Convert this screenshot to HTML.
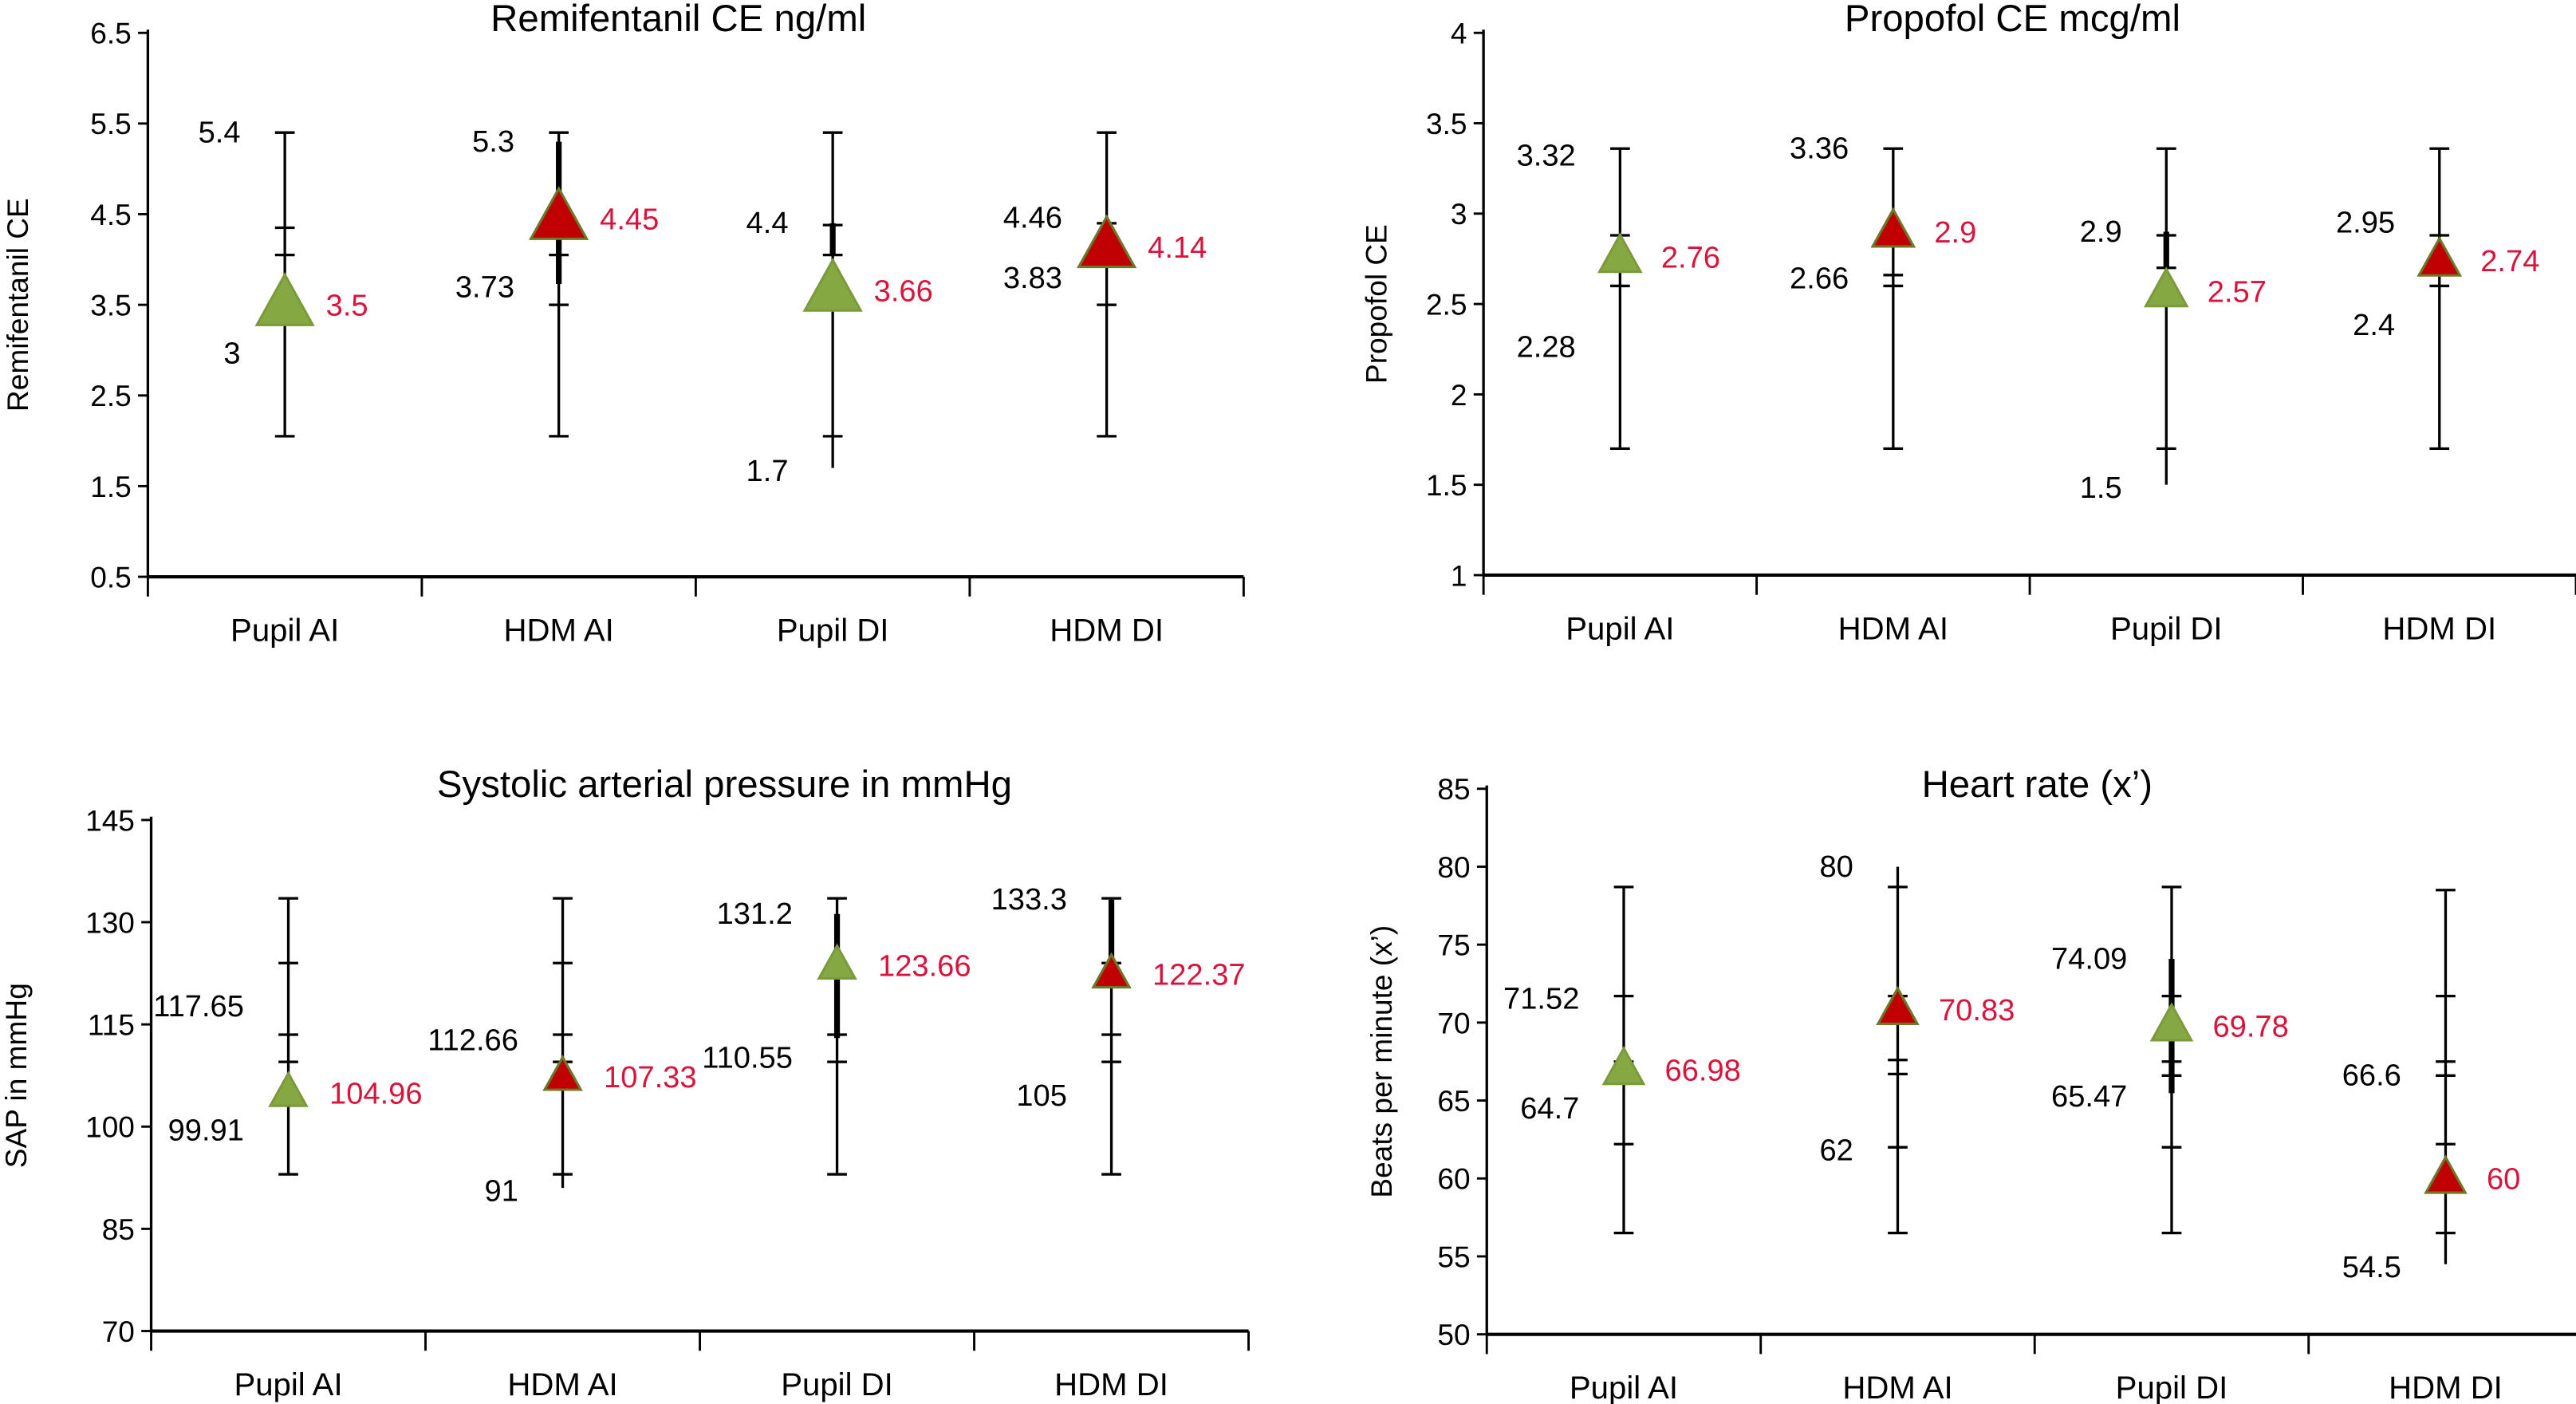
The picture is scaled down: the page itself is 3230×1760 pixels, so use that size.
<!DOCTYPE html>
<html><head><meta charset="utf-8"><style>
html,body{margin:0;padding:0;background:#fff;}
svg{display:block;font-family:"Liberation Sans",Arial,sans-serif;}
</style></head><body>
<svg id="c" width="3230" height="1760" viewBox="0 0 1568 854.4"></svg>
<script>
const categories = ["Pupil AI","HDM AI","Pupil DI","HDM DI"];
// Remifentanil
const remiTicks = [6.5,5.5,4.5,3.5,2.5,1.5,0.5];
const remiMean = [3.5,4.45,3.66,4.14];
const remiWLo = [2.05,2.05,1.7,2.05];
const remiWHi = [5.4,5.4,5.4,5.4];
const remiCapLo = [2.05,2.05,2.05,2.05];
const remiCapHi = [5.4,5.4,5.4,5.4];
const remiInner = [[4.35,4.05],[4.05,3.5],[4.38,4.05],[4.4,3.5]];
const remiThickLo = [null,3.73,4.05,null];
const remiThickHi = [null,5.3,4.4,null];
const remiLabHi = ["5.4","5.3","4.4","4.46"];
const remiLabHiV = [5.4,5.3,4.4,4.46];
const remiLabLo = ["3","3.73","1.7","3.83"];
const remiLabLoV = [3,3.73,1.7,3.83];
// Propofol
const propTicks = [4,3.5,3,2.5,2,1.5,1];
const propMean = [2.76,2.9,2.57,2.74];
const propWLo = [1.7,1.7,1.5,1.7];
const propWHi = [3.36,3.36,3.36,3.36];
const propCapLo = [1.7,1.7,1.7,1.7];
const propCapHi = [3.36,3.36,3.36,3.36];
const propInner = [[2.88,2.6],[2.66,2.6],[2.88,2.7],[2.88,2.6]];
const propThickLo = [null,null,2.7,null];
const propThickHi = [null,null,2.9,null];
const propLabHi = ["3.32","3.36","2.9","2.95"];
const propLabHiV = [3.32,3.36,2.9,2.95];
const propLabLo = ["2.28","2.66","1.5","2.4"];
const propLabLoV = [2.28,2.66,1.5,2.4];
// SAP
const sapTicks = [145,130,115,100,85,70];
const sapMean = [104.96,107.33,123.66,122.37];
const sapWLo = [93,91,93,93];
const sapWHi = [133.5,133.5,133.5,133.5];
const sapCapLo = [93,93,93,93];
const sapCapHi = [133.5,133.5,133.5,133.5];
const sapInner = [[124,113.5,109.5],[124,113.5,109.5],[124,113.5,109.5],[124,113.5,109.5]];
const sapThickLo = [null,null,113,124];
const sapThickHi = [null,null,131.2,133.3];
const sapLabHi = ["117.65","112.66","131.2","133.3"];
const sapLabHiV = [117.65,112.66,131.2,133.3];
const sapLabLo = ["99.91","91","110.55","105"];
const sapLabLoV = [99.91,91,110.55,105];
// Heart rate
const hrTicks = [85,80,75,70,65,60,55,50];
const hrMean = [66.98,70.83,69.78,60];
const hrWLo = [56.5,56.5,56.5,54.5];
const hrWHi = [78.7,80,78.7,78.5];
const hrCapLo = [56.5,56.5,56.5,56.5];
const hrCapHi = [78.7,78.7,78.7,78.5];
const hrInner = [[71.7,67.5,62.2],[71.7,67.6,66.7,62],[71.7,67.5,66.6,62],[71.7,67.5,66.6,62.2]];
const hrThickLo = [null,null,65.47,null];
const hrThickHi = [null,null,74.09,null];
const hrLabHi = ["71.52","80","74.09","66.6"];
const hrLabHiV = [71.52,80,74.09,66.6];
const hrLabLo = ["64.7","62","65.47","54.5"];
const hrLabLoV = [64.7,62,65.47,54.5];

const NS="http://www.w3.org/2000/svg";
const svg=document.getElementById('c');
function mk(tag,attrs,parent,text){const e=document.createElementNS(NS,tag);for(const k in attrs)e.setAttribute(k,attrs[k]);if(text!==undefined)e.textContent=text;(parent||svg).appendChild(e);return e;}

function panel(o){
  const g=mk('g',{});
  
  
  const tmax=o.ticks[0], tmin=o.ticks[o.ticks.length-1];
  const y=v=>o.yTop+(tmax-v)/(tmax-tmin)*(o.yBot-o.yTop);
  const gw=(o.xEnd-o.x0)/4;
  const x=i=>o.x0+gw*(i+0.5);
  const ya=mk('line',{x1:o.x0,y1:o.yTop-2,x2:o.x0,y2:o.yBot,stroke:'#000','stroke-width':1.6},g);
  
  
  const xa=mk('line',{x1:o.x0,y1:o.yBot,x2:o.xEnd,y2:o.yBot,stroke:'#000','stroke-width':2},g);
  
  
  o.ticks.forEach(t=>{
    mk('line',{x1:o.x0-6,y1:y(t),x2:o.x0,y2:y(t),stroke:'#000','stroke-width':1.4},g);
    const tl=mk('text',{x:o.x0-10,y:y(t)+6.5,'text-anchor':'end','font-size':18},g,String(t));
    
    
  });
  for(let i=0;i<=4;i++){mk('line',{x1:o.x0+gw*i,y1:o.yBot,x2:o.x0+gw*i,y2:o.yBot+12,stroke:'#000','stroke-width':1.4},g);}
  categories.forEach((c,i)=>{
    const t=mk('text',{x:x(i),y:o.yBot+39,'text-anchor':'middle','font-size':19.5},g,c);
    
    
  });
  const ti=mk('text',{x:o.titleX,y:o.titleY,'text-anchor':'middle','font-size':23},g,o.title);
  
  
  const yt=mk('text',{x:0,y:0,'text-anchor':'middle','font-size':18,transform:`translate(${o.ytX},${(o.yTop+o.yBot)/2}) rotate(-90)`},g,o.yTitle);
  
  
  categories.forEach((c,i)=>{
    const cx=x(i);
    const p=mk('g',{},g);
    
    
    mk('line',{x1:cx,y1:y(o.wHi[i]),x2:cx,y2:y(o.wLo[i]),stroke:'#000','stroke-width':1.6},p);
    [o.capHi[i],o.capLo[i]].concat(o.inner[i]).forEach(v=>{
      mk('line',{x1:cx-6,y1:y(v),x2:cx+6,y2:y(v),stroke:'#000','stroke-width':1.6},p);
    });
    if(o.thLo[i]!==null){mk('line',{x1:cx,y1:y(o.thHi[i]),x2:cx,y2:y(o.thLo[i]),stroke:'#000','stroke-width':3.5},p);}
    const m=y(o.mean[i]), w=o.tri/2, h=o.tri*0.9;
    const green=(i%2===0);
    mk('polygon',{points:`${cx},${m-h*0.6} ${cx-w},${m+h*0.4} ${cx+w},${m+h*0.4}`,fill:green?'#86a843':'#c00000',stroke:green?'#7a9a3c':'#6b7a2a','stroke-width':1.5},p);
    const lh=mk('text',{x:cx-27,y:y(o.lhV[i])+6,'text-anchor':'end','font-size':18.5},p,o.lh[i]);
    
    
    const ll=mk('text',{x:cx-27,y:y(o.llV[i])+8,'text-anchor':'end','font-size':18.5},p,o.ll[i]);
    
    
    const ml=mk('text',{x:cx+25,y:m+6.5,'text-anchor':'start','font-size':18.5,fill:'#d8143c'},p,String(o.mean[i]));
    
    
  });
}
panel({name:'remifentanil-panel',title:'Remifentanil CE ng/ml',yTitle:'Remifentanil CE',ticks:remiTicks,x0:90,xEnd:757,yTop:20,yBot:351,titleX:413,titleY:19,ytX:17,tri:34,
  mean:remiMean,wLo:remiWLo,wHi:remiWHi,capLo:remiCapLo,capHi:remiCapHi,inner:remiInner,thLo:remiThickLo,thHi:remiThickHi,lh:remiLabHi,lhV:remiLabHiV,ll:remiLabLo,llV:remiLabLoV});
panel({name:'propofol-panel',title:'Propofol CE mcg/ml',yTitle:'Propofol CE',ticks:propTicks,x0:903,xEnd:1568,yTop:20,yBot:350,titleX:1225,titleY:19,ytX:844,tri:25,
  mean:propMean,wLo:propWLo,wHi:propWHi,capLo:propCapLo,capHi:propCapHi,inner:propInner,thLo:propThickLo,thHi:propThickHi,lh:propLabHi,lhV:propLabHiV,ll:propLabLo,llV:propLabLoV});
panel({name:'sap-panel',title:'Systolic arterial pressure in mmHg',yTitle:'SAP in mmHg',ticks:sapTicks,x0:92,xEnd:760,yTop:499,yBot:810,titleX:441,titleY:485,ytX:16,tri:22,
  mean:sapMean,wLo:sapWLo,wHi:sapWHi,capLo:sapCapLo,capHi:sapCapHi,inner:sapInner,thLo:sapThickLo,thHi:sapThickHi,lh:sapLabHi,lhV:sapLabHiV,ll:sapLabLo,llV:sapLabLoV});
panel({name:'heart-rate-panel',title:'Heart rate (x\u2019)',yTitle:'Beats per minute (x\u2019)',ticks:hrTicks,x0:905,xEnd:1572,yTop:480,yBot:812,titleX:1240,titleY:485,ytX:847,tri:24,
  mean:hrMean,wLo:hrWLo,wHi:hrWHi,capLo:hrCapLo,capHi:hrCapHi,inner:hrInner,thLo:hrThickLo,thHi:hrThickHi,lh:hrLabHi,lhV:hrLabHiV,ll:hrLabLo,llV:hrLabLoV});
</script>
</body></html>
